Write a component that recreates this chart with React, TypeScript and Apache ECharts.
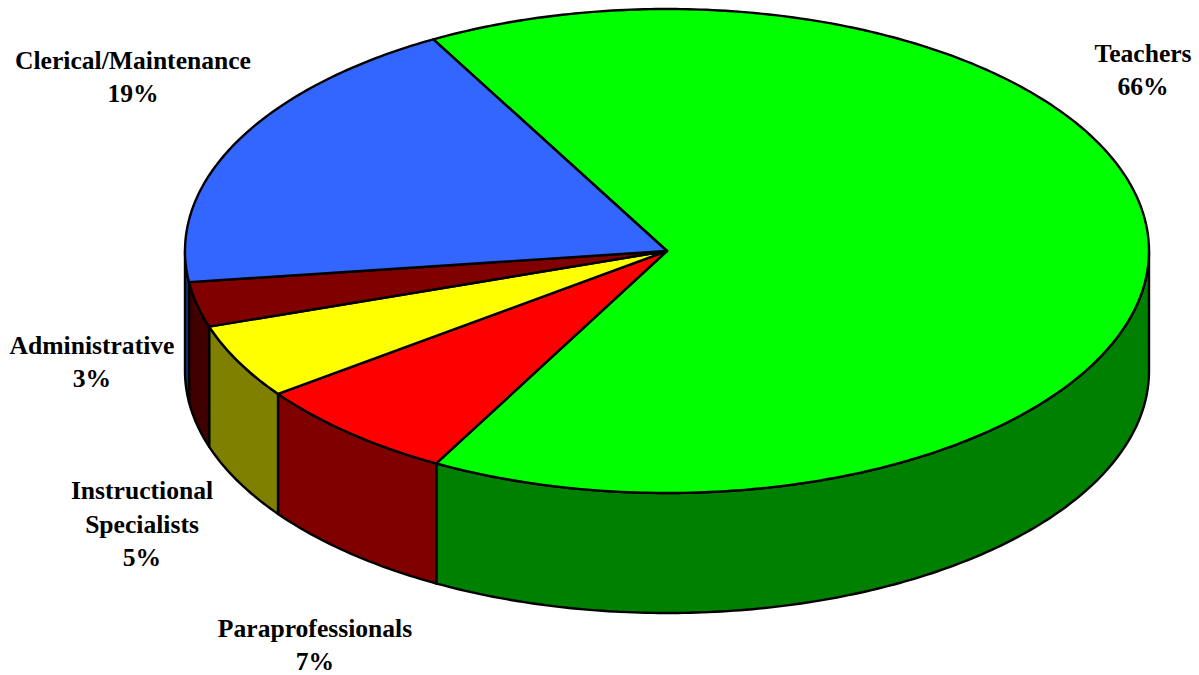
import React, { useEffect, useRef } from "react";
import * as echarts from "echarts";

const categories = ["Teachers", "Paraprofessionals", "Instructional\nSpecialists", "Administrative", "Clerical/Maintenance"];
const shares = [66, 7, 5, 3, 19];
const topColors = ["#00FF00", "#FF0000", "#FFFF00", "#800000", "#3366FF"];
const wallColors = ["#008000", "#800000", "#808000", "#400000", "#1A3380"];
const labelAnchors = [
  [1143, 70],
  [315, 645],
  [142, 524],
  [92, 362],
  [133, 77],
];

// Disc geometry for the tilted pie.
const CX = 667;
const CY = 251;
const RX = 482;
const RY = 242;
const DEPTH = 120;
const START_DEG = -29;
const STEP_DEG = 0.75;

const rim = (deg: number, drop = 0): number[] => {
  const t = (deg * Math.PI) / 180;
  return [CX + RX * Math.sin(t), CY - RY * Math.cos(t) + drop];
};

const arcPoints = (from: number, to: number, drop = 0): number[][] => {
  const pts: number[][] = [];
  const n = Math.max(1, Math.ceil((to - from) / STEP_DEG));
  for (let i = 0; i <= n; i++) pts.push(rim(from + ((to - from) * i) / n, drop));
  return pts;
};

const total = shares.reduce((a, b) => a + b, 0);

const renderSlice = (params: any, api: any) => {
  const i = params.dataIndex;
  const before = shares.slice(0, i).reduce((a, b) => a + b, 0);
  const a0 = START_DEG + (before / total) * 360;
  const a1 = a0 + (api.value(0) / total) * 360;
  const edge = { stroke: "#000", lineWidth: 2.4, lineJoin: "round" };
  const children: any[] = [];

  // Front wall: only the part of the rim facing the viewer, 90 to 270 degrees.
  const w0 = Math.max(a0, 90);
  const w1 = Math.min(a1, 270);
  if (w1 > w0) {
    const upper = arcPoints(w0, w1);
    const lower = arcPoints(w0, w1, DEPTH).reverse();
    children.push({
      type: "polygon",
      shape: { points: upper.concat(lower) },
      style: { fill: wallColors[i], ...edge },
    });
  }

  children.push({
    type: "polygon",
    shape: { points: [[CX, CY], ...arcPoints(a0, a1)] },
    style: { fill: topColors[i], ...edge },
  });

  children.push({
    type: "text",
    x: labelAnchors[i][0],
    y: labelAnchors[i][1],
    style: {
      text: `${categories[i]}\n${api.value(0)}%`,
      align: "center",
      verticalAlign: "middle",
      fontFamily: "'Liberation Serif', serif",
      fontWeight: "bold",
      fontSize: 25.6,
      lineHeight: 33.5,
      fill: "#000",
    },
  });

  return { type: "group", children };
};

export default function App() {
  const ref = useRef<HTMLDivElement>(null);

  useEffect(() => {
    const chart = echarts.init(ref.current!, undefined, { renderer: "svg" });
    chart.setOption({
      animation: false,
      backgroundColor: "#fff",
      series: [
        {
          type: "custom",
          coordinateSystem: "none",
          renderItem: renderSlice,
          data: shares.map((v) => [v]),
          silent: true,
        },
      ],
    });
    return () => chart.dispose();
  }, []);

  return (
    <div
      ref={ref}
      style={{ position: "fixed", left: 0, top: 0, width: 1199, height: 675 }}
    />
  );
}
